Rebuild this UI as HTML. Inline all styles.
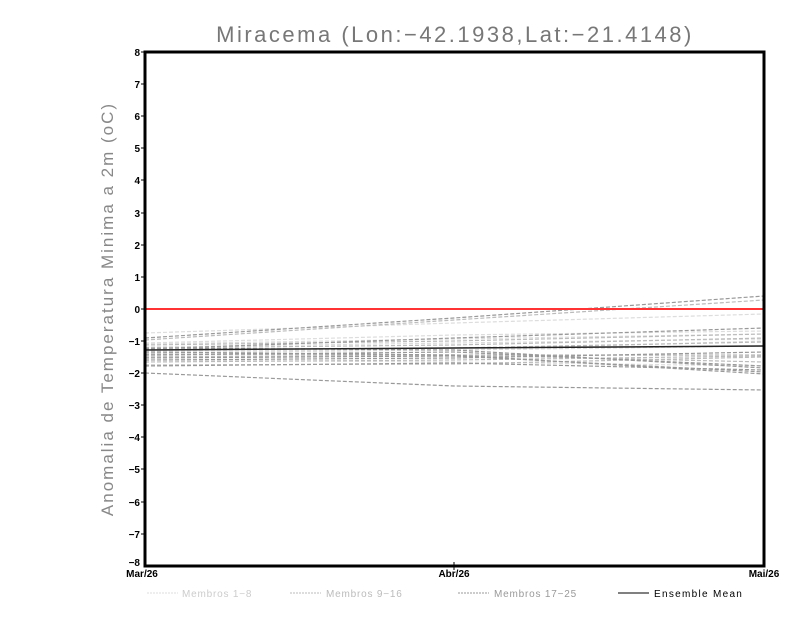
<!DOCTYPE html>
<html><head><meta charset="utf-8"><style>
body{margin:0;background:#fff;width:800px;height:618px;overflow:hidden}
svg{display:block}
</style></head><body>
<svg width="800" height="618" xmlns="http://www.w3.org/2000/svg" font-family="Liberation Sans, sans-serif">
<rect width="800" height="618" fill="#fff"/>
<text x="455" y="42" font-size="22" fill="#777" text-anchor="middle" letter-spacing="2.5">Miracema (Lon:−42.1938,Lat:−21.4148)</text>
<text transform="translate(113,309) rotate(-90)" font-size="17" fill="#888" text-anchor="middle" letter-spacing="2">Anomalia de Temperatura Minima a 2m (oC)</text>
<g fill="none" stroke-width="1.2" stroke-dasharray="4,2">
<g stroke="#ddd">
<polyline points="145,333 454,323 764,314"/><polyline points="145,343 454,335 764,331"/><polyline points="145,347 454,343 764,339"/><polyline points="145,351 454,350 764,346"/><polyline points="145,356 454,356 764,355"/><polyline points="145,360 454,362 764,366"/><polyline points="145,344 454,339 764,334"/><polyline points="145,353 454,350 764,341"/>
</g>
<g stroke="#bbb">
<polyline points="145,340 454,320 764,300"/><polyline points="145,345 454,341 764,334"/><polyline points="145,350 454,348 764,342"/><polyline points="145,354 454,355 764,362"/><polyline points="145,357 454,355 764,355"/><polyline points="145,362 454,360 764,356"/><polyline points="145,365 454,364 764,357"/><polyline points="145,348 454,345 764,338"/>
</g>
<g stroke="#999">
<polyline points="145,338 454,318 764,296"/><polyline points="145,349 454,338 764,328"/><polyline points="145,355 454,352 764,366"/><polyline points="145,358 454,356 764,372"/><polyline points="145,366 454,363 764,370"/><polyline points="145,373 454,386 764,390"/><polyline points="145,348 454,350 764,368"/><polyline points="145,352 454,355 764,374"/><polyline points="145,360 454,358 764,352"/>
</g>
</g>
<line x1="145" y1="309" x2="764" y2="309" stroke="#f33" stroke-width="2"/>
<polyline points="145,350 454,348 764,346" fill="none" stroke="#222" stroke-width="1.5"/>
<rect x="145" y="52" width="619" height="514" fill="none" stroke="#000" stroke-width="3"/>
<g font-size="10" font-weight="bold" text-anchor="end" fill="#000">
<text x="140" y="56">8</text><text x="140" y="88">7</text><text x="140" y="120">6</text><text x="140" y="152">5</text><text x="140" y="184">4</text><text x="140" y="217">3</text><text x="140" y="249">2</text><text x="140" y="281">1</text><text x="140" y="313">0</text><text x="140" y="345">−1</text><text x="140" y="377">−2</text><text x="140" y="409">−3</text><text x="140" y="441">−4</text><text x="140" y="473">−5</text><text x="140" y="506">−6</text><text x="140" y="538">−7</text><text x="140" y="566">−8</text>
</g>
<g stroke="#000" stroke-width="1">
<line x1="141" y1="52" x2="145" y2="52"/><line x1="141" y1="84" x2="145" y2="84"/><line x1="141" y1="116" x2="145" y2="116"/><line x1="141" y1="148" x2="145" y2="148"/><line x1="141" y1="180" x2="145" y2="180"/><line x1="141" y1="213" x2="145" y2="213"/><line x1="141" y1="245" x2="145" y2="245"/><line x1="141" y1="277" x2="145" y2="277"/><line x1="141" y1="309" x2="145" y2="309"/><line x1="141" y1="341" x2="145" y2="341"/><line x1="141" y1="373" x2="145" y2="373"/><line x1="141" y1="405" x2="145" y2="405"/><line x1="141" y1="437" x2="145" y2="437"/><line x1="141" y1="469" x2="145" y2="469"/><line x1="141" y1="502" x2="145" y2="502"/><line x1="141" y1="534" x2="145" y2="534"/>
<line x1="454" y1="562" x2="454" y2="570"/>
</g>
<g font-size="10" font-weight="bold" fill="#000" text-anchor="middle">
<text x="142" y="577">Mar/26</text><text x="454" y="577">Abr/26</text><text x="764" y="577">Mai/26</text>
</g>
<g font-size="10" fill="#aaa" letter-spacing="0.8">
<line x1="147" y1="593" x2="178" y2="593" stroke="#ddd" stroke-dasharray="2,1"/><text x="182" y="597" fill="#ccc">Membros 1−8</text>
<line x1="290" y1="593" x2="321" y2="593" stroke="#bbb" stroke-dasharray="2,1"/><text x="326" y="597" fill="#bbb">Membros 9−16</text>
<line x1="458" y1="593" x2="489" y2="593" stroke="#999" stroke-dasharray="2,1"/><text x="494" y="597" fill="#999">Membros 17−25</text>
<line x1="618" y1="593" x2="649" y2="593" stroke="#000"/><text x="654" y="597" fill="#000" letter-spacing="1.3">Ensemble Mean</text>
</g>
</svg>
</body></html>
